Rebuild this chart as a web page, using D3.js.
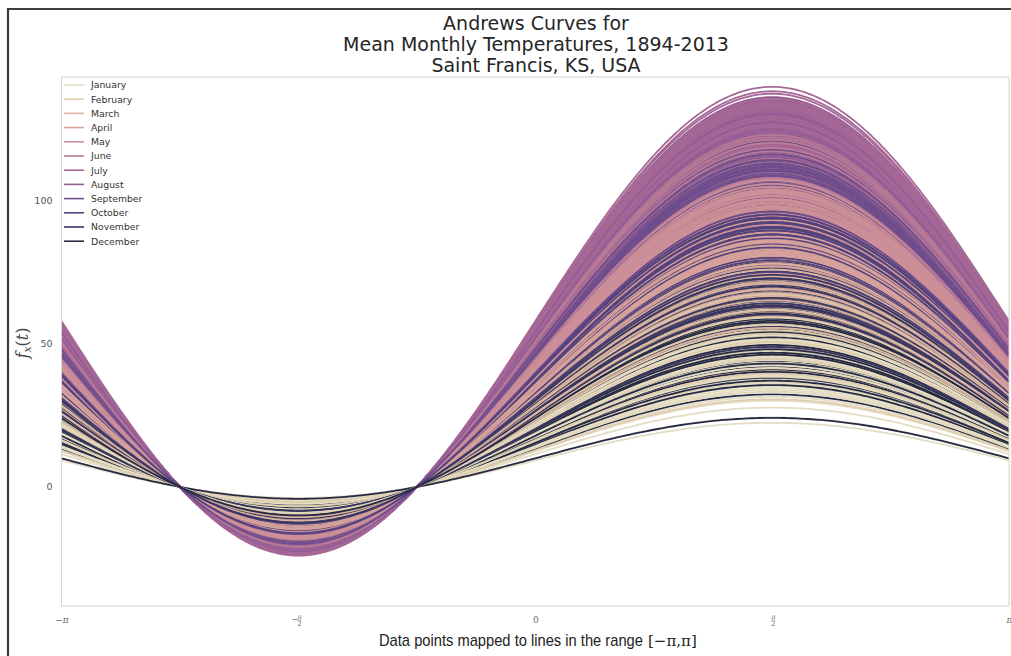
<!DOCTYPE html>
<html><head><meta charset="utf-8">
<script src="https://cdn.jsdelivr.net/npm/d3@7"></script>
<style>html,body{margin:0;padding:0;background:#fff;} svg{display:block;}</style>
</head><body>
<svg id="c" width="1011" height="656"></svg>
<script>
const months = ["January","February","March","April","May","June","July","August","September","October","November","December"];
const monthColors = ["#e4ddc3","#dfcdb0","#dab5a0","#d6a19b","#cc8f98","#b97b96","#a66896","#945d95","#6f4d8c","#51417c","#393661","#262a44"];
const titleLines = ["Andrews Curves for","Mean Monthly Temperatures, 1894-2013","Saint Francis, KS, USA"];
const yTicks = [0, 50, 100];
const xTicks = [-Math.PI, -Math.PI/2, 0, Math.PI/2, Math.PI];
const xTickLabels = [["−","π",""],["−","π","2"],["","0",""],["","π","2"],["","π",""]];

// mean monthly temperatures (°F), one value per sampled year
const jan = [24.6,31.2,19.8,27.4,33.5,22.1,28.9,13.1,26.3,30.7,24.0,35.2,21.5,29.6,27.8,18.4,32.4,25.1,23.7,30.0,26.9,36.8,20.6,28.3,31.9,16.2,27.1,24.8,34.0,22.9,29.2,25.7,30.4,19.3,27.6,33.1,23.4,26.0,38.0,21.1,28.5,25.4,31.5,17.6,29.9,26.6,24.3,32.8,22.5,27.9,30.2,14.2,25.9,28.1,34.6,23.0,26.4,29.4,20.2,31.0];
const feb = [30.8,25.4,34.9,28.7,37.2,32.1,22.6,29.5,35.8,31.4,27.0,40.3,33.6,24.9,30.2,36.5,28.1,19.4,32.8,34.1,29.0,26.3,38.6,31.9,33.0,23.8,30.5,35.3,27.7,42.1,31.1,29.8,25.9,36.9,33.9,28.4,21.2,32.4,30.0,37.8,26.8,34.5,29.3,31.7,24.2,35.0,32.6,17.9,30.9,27.3,39.4,33.2,28.9,31.3,26.1,34.7,36.2,29.6,23.1,32.0];
const mar = [38.4,42.7,35.1,40.2,37.6,44.9,33.8,39.5,41.3,36.2,39.9,47.1,34.6,38.0,42.1,40.8,31.7,37.3,43.5,39.1,36.9,41.7,38.7,45.6,35.5,40.4,28.3,39.7,42.9,37.0,41.0,34.2,38.2,44.1,40.0,36.5,39.3,50.2,37.9,42.4,35.8,40.6,38.9,33.1,41.9,39.2,46.3,36.7,40.9,37.5,43.0,38.6,32.5,41.5,39.6,35.0,44.4,38.1,40.3,36.0];
const apr = [48.6,51.3,46.2,49.8,52.9,47.4,50.1,44.7,49.2,53.8,47.9,50.6,45.5,48.9,51.7,49.5,42.3,48.1,55.2,50.3,47.0,49.0,52.2,46.6,50.9,48.3,44.0,51.0,49.4,53.1,47.6,50.5,45.9,48.8,57.3,49.7,46.9,51.9,48.0,50.0,43.6,49.1,52.6,47.2,50.8,48.5,54.4,46.3,49.9,51.4,47.7,40.6,50.2,48.2,52.0,45.1,49.3,51.1,47.3,50.4];
const may = [58.7,61.2,56.9,59.8,62.4,57.5,60.3,54.8,59.1,63.6,58.0,60.9,55.7,59.4,61.8,57.2,60.0,52.1,58.4,62.9,59.6,56.3,61.0,58.9,64.7,57.8,60.6,55.1,59.2,61.5,58.2,60.1,56.6,62.1,59.0,57.0,66.4,58.6,60.7,54.2,59.5,61.6,57.4,60.4,58.1,63.0,56.0,59.9,61.3,58.5,55.4,60.8,57.9,62.6,59.3,56.8,60.2,58.8,53.5,61.9];
const jun = [68.2,70.6,66.4,69.3,71.8,67.1,69.9,64.5,68.7,72.9,67.6,70.2,65.3,68.9,71.2,66.8,69.5,62.0,68.0,73.7,69.1,66.0,70.8,68.4,75.6,67.3,70.0,64.9,68.6,71.5,67.8,69.7,65.9,72.3,68.8,66.5,70.4,68.1,76.2,63.8,69.2,71.0,67.0,69.8,68.3,72.6,65.6,69.4,70.9,67.5,64.2,70.3,67.9,71.9,68.5,66.2,69.6,68.0,63.1,71.4];
const jul = [75.2,77.4,73.6,76.1,78.5,74.3,76.8,72.0,75.7,79.6,74.8,77.0,72.9,75.9,78.0,74.1,76.4,70.2,75.0,80.3,76.0,73.3,77.7,75.4,81.7,74.6,76.9,72.5,75.5,78.2,74.9,76.6,73.0,79.0,75.8,73.8,77.2,75.1,80.8,71.4,76.2,77.9,74.4,76.7,75.3,79.3,73.1,76.3,77.5,74.7,71.8,76.5,74.0,78.7,75.6,73.5,76.9,75.0,69.6,78.3];
const aug = [73.1,75.6,71.4,74.2,76.7,72.3,74.9,70.0,73.8,77.8,72.7,75.1,70.8,73.9,76.2,72.0,74.5,68.1,73.0,78.6,74.0,71.2,75.8,73.4,79.5,72.5,74.8,70.4,73.6,76.4,72.8,74.6,71.0,77.1,73.7,71.7,75.3,73.2,78.9,69.3,74.3,76.0,72.2,74.7,73.3,77.4,71.1,74.4,75.5,72.6,69.8,74.5,72.1,76.8,73.5,71.5,75.0,73.0,67.5,76.3];
const sep = [64.2,66.9,62.3,65.3,68.1,63.0,65.8,60.4,64.7,69.2,63.5,66.3,61.2,64.9,67.4,62.7,65.5,57.8,64.0,70.1,65.1,61.9,67.0,64.4,71.3,63.3,66.0,60.9,64.6,67.7,63.8,65.7,61.7,68.5,64.8,62.5,66.6,64.1,70.6,59.6,65.2,67.2,63.1,65.9,64.3,68.8,61.5,65.4,66.8,63.6,59.1,65.6,63.4,68.3,64.5,62.1,66.1,64.0,56.2,67.9];
const oct = [51.8,54.3,49.7,52.6,55.4,50.5,53.2,47.9,52.1,56.6,50.9,53.7,48.6,52.3,54.8,50.1,52.9,45.2,51.4,57.5,52.5,49.3,54.4,51.9,59.2,50.7,53.4,48.3,52.0,55.1,51.2,53.0,49.0,55.9,52.2,49.9,54.0,51.6,58.1,46.8,52.7,54.6,50.4,53.3,51.7,56.2,48.9,52.8,54.1,51.0,46.3,53.1,50.8,55.6,52.4,49.5,53.5,51.5,43.9,55.0];
const nov = [38.1,41.6,35.4,39.2,43.0,36.5,40.3,33.2,38.7,44.6,36.9,40.8,34.1,38.9,42.2,36.0,39.7,30.4,37.6,45.8,39.0,35.0,41.9,38.3,47.4,36.7,40.5,33.8,38.5,42.7,37.2,40.0,34.7,43.6,38.8,35.8,41.2,37.9,46.1,31.9,39.4,42.0,36.3,40.6,38.0,44.0,34.4,39.6,41.4,37.0,32.7,40.1,36.8,43.3,38.6,35.2,40.9,37.5,28.6,42.5];
const dec = [28.6,32.9,25.1,30.2,34.8,26.7,31.4,22.3,29.3,36.6,27.2,32.0,23.8,29.6,33.7,26.0,30.8,18.9,28.0,37.9,29.9,24.5,33.2,28.9,39.0,26.9,31.7,23.1,29.1,34.2,27.7,31.1,24.0,35.5,29.4,25.6,32.3,28.3,38.4,20.8,30.5,33.5,26.4,31.6,28.7,35.9,23.5,30.4,32.6,27.4,21.7,31.3,27.0,34.4,29.0,25.2,32.0,28.1,14.1,33.9];
const monthly = [jan,feb,mar,apr,may,jun,jul,aug,sep,oct,nov,dec];

const svg = d3.select('#c');
const L = 61.5, R = 1009, T = 77, B = 606;
const x = d3.scaleLinear().domain([-Math.PI, Math.PI]).range([L, R]);
const y = d3.scaleLinear().domain([-41.5, 142.9]).range([B, T]);

// outer screenshot border
svg.append('line').attr('x1',7).attr('x2',1011).attr('y1',9).attr('y2',9).attr('stroke','#3c3c3c').attr('stroke-width',2.2);
svg.append('line').attr('x1',8).attr('x2',8).attr('y1',8).attr('y2',656).attr('stroke','#3c3c3c').attr('stroke-width',2.2);

// title
svg.append('g').selectAll('text').data(titleLines).join('text')
  .attr('x', 536).attr('y', (d,i)=>29.5 + i*21.3)
  .attr('text-anchor','middle').attr('font-family','DejaVu Sans, sans-serif')
  .attr('font-size', 19).attr('fill','#262626').text(d=>d);

svg.append('defs').append('clipPath').attr('id','clip')
  .append('rect').attr('x',L).attr('y',T).attr('width',R-L).attr('height',B-T);

// Andrews curves: f(t) = x1/sqrt(2) + x2 sin t, with x1 = x2 = temperature
const ts = d3.range(0, 241).map(i => -Math.PI + 2*Math.PI*i/240);
const andrews = (v, t) => v/Math.SQRT2 + v*Math.sin(t);
const line = d3.line().x(d=>x(d[0])).y(d=>y(d[1]));
const rows = [];
const nYears = d3.max(monthly, a=>a.length);
for (let yr=0; yr<nYears; yr++) for (let m=0; m<12; m++) {
  if (monthly[m][yr] !== undefined) rows.push({m, v: monthly[m][yr]});
}
svg.append('g').attr('clip-path','url(#clip)').selectAll('path').data(rows).join('path')
  .attr('d', r => line(ts.map(t => [t, andrews(r.v, t)])))
  .attr('fill','none').attr('stroke', r => monthColors[r.m]).attr('stroke-width',1.8);

// axes frame
svg.append('rect').attr('x',L).attr('y',T).attr('width',R-L).attr('height',B-T)
  .attr('fill','none').attr('stroke','#d4d4d4').attr('stroke-width',1);

// y axis
const ya = svg.append('g').attr('transform',`translate(${L},0)`)
  .call(d3.axisLeft(y).tickValues(yTicks).tickSize(0).tickPadding(9));
ya.select('.domain').remove();
ya.selectAll('text').attr('font-family','DejaVu Sans, sans-serif').attr('font-size',9.5).attr('fill','#555');

// x axis with math labels
const xa = svg.append('g').attr('transform',`translate(0,${B})`)
  .call(d3.axisBottom(x).tickValues(xTicks).tickSize(0).tickFormat(''));
xa.select('.domain').remove();
xa.selectAll('.tick').each(function(d,i){
  const g = d3.select(this);
  g.selectAll('text').remove();
  const [sign, num, den] = xTickLabels[i];
  const cy = 13.5;
  if (!den) {
    g.append('text').attr('x',0).attr('y',cy+3).attr('text-anchor','middle')
      .attr('font-family','DejaVu Serif, serif').attr('font-style', num==='0'?'normal':'italic')
      .attr('font-size',9).attr('fill','#666').text(sign+num);
  } else {
    if (sign) g.append('text').attr('x',-4).attr('y',cy+2.5).attr('text-anchor','middle')
      .attr('font-family','DejaVu Sans, sans-serif').attr('font-size',8).attr('fill','#666').text(sign);
    g.append('text').attr('x',0.8).attr('y',cy-0.8).attr('text-anchor','middle')
      .attr('font-family','DejaVu Serif, serif').attr('font-style','italic').attr('font-size',6.5).attr('fill','#666').text(num);
    g.append('line').attr('x1',-1.5).attr('x2',3).attr('y1',cy+0.6).attr('y2',cy+0.6).attr('stroke','#777').attr('stroke-width',0.6);
    g.append('text').attr('x',0.8).attr('y',cy+6.8).attr('text-anchor','middle')
      .attr('font-family','DejaVu Sans, sans-serif').attr('font-size',6.5).attr('fill','#666').text(den);
  }
});

// x label (plain part + math part), plain part horizontally condensed via transform
const xl = svg.append('text').attr('x',0).attr('y',0).attr('text-anchor','start')
  .attr('font-family','Liberation Sans, Arial, sans-serif').attr('font-size',16).attr('fill','#222')
  .text('Data points mapped to lines in the range');
const natW = xl.node().getComputedTextLength();
const sx = Math.min(1, 264 / natW);
xl.attr('transform', `translate(379,646) scale(${sx},1)`);
svg.append('text').attr('x',379 + natW*sx + 5).attr('y',646).attr('text-anchor','start')
  .attr('font-family','DejaVu Serif, serif').attr('font-size',15).attr('fill','#222')
  .text('[−π,π]');

// y label
const yl = svg.append('text').attr('transform','translate(28,343) rotate(-90)')
  .attr('text-anchor','middle').attr('font-family','DejaVu Serif, serif').attr('font-size',16).attr('fill','#444');
yl.append('tspan').attr('font-style','italic').text('f');
yl.append('tspan').attr('font-style','italic').attr('font-size',11).attr('dy',3).text('x');
yl.append('tspan').attr('dy',-3).text('(');
yl.append('tspan').attr('font-style','italic').text('t');
yl.append('tspan').text(')');

// legend
const lg = svg.append('g').selectAll('g').data(months).join('g')
  .attr('transform',(d,i)=>`translate(64,${85 + i*14.2})`);
lg.append('line').attr('x1',0).attr('x2',20).attr('y1',0).attr('y2',0)
  .attr('stroke',(d,i)=>monthColors[i]).attr('stroke-width',1.6);
lg.append('text').attr('x',27).attr('y',3.3).attr('font-family','DejaVu Sans, sans-serif')
  .attr('font-size',9.3).attr('fill','#333').text(d=>d);
</script>
</body></html>
